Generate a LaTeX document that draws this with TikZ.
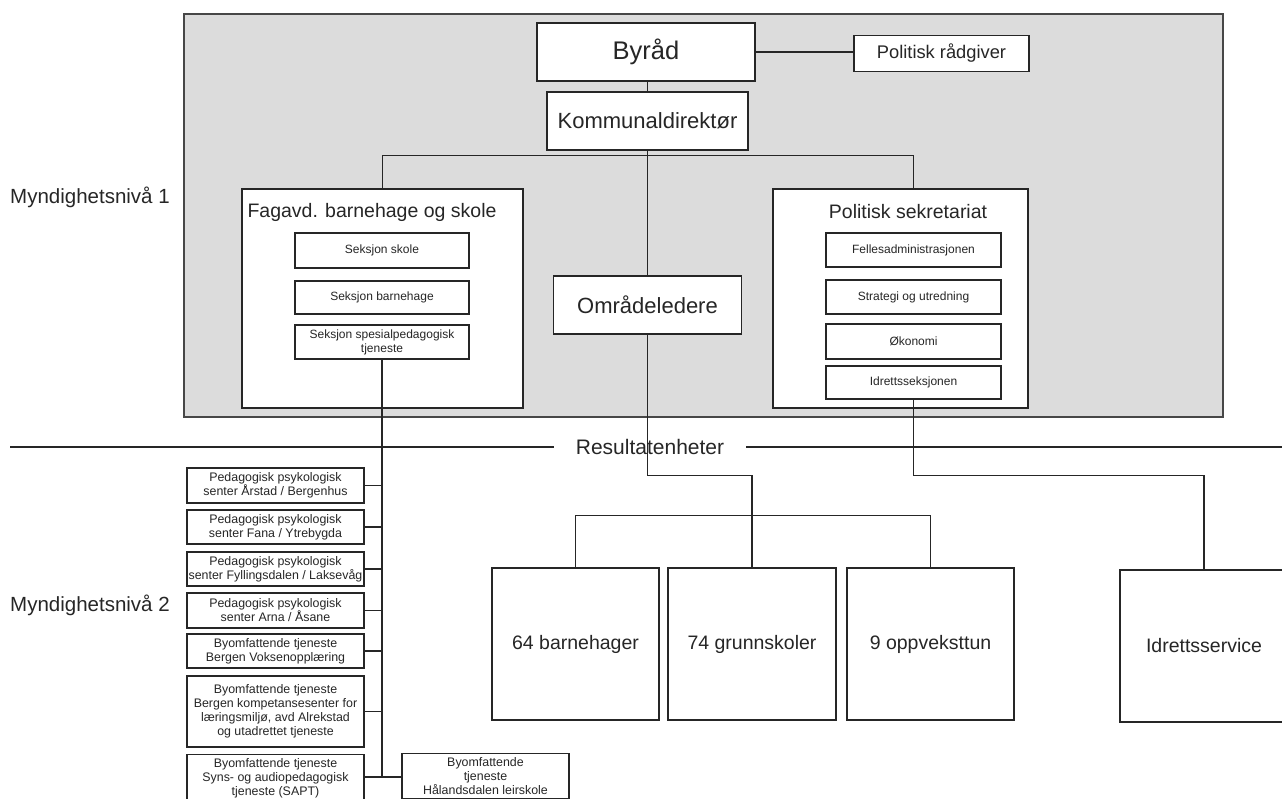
\documentclass[tikz,border=0pt]{standalone}
\usepackage{fontspec}
\setmainfont{Liberation Sans}
\definecolor{ink}{HTML}{262626}
\definecolor{panelgray}{HTML}{DCDCDC}
\newcommand\fsz[2]{\fontsize{#1}{#2}\selectfont}
\begin{document}
\begin{tikzpicture}[x=1pt,y=-1pt,
  unit/.style={draw=ink, fill=white, line width=1.3pt, inner sep=0pt, align=center, text=ink},
  sub/.style={unit, minimum width=174pt, font=\fsz{12}{14}},
  leftsub/.style={unit, minimum width=177pt, font=\fsz{12.4}{14}},
  big/.style={unit, minimum width=167pt, minimum height=152pt, font=\fsz{19.5}{22}},
  heading/.style={text=ink, inner sep=0pt, font=\fsz{19.5}{22}},
  level/.style={text=ink, inner sep=0pt, anchor=west, font=\fsz{20.5}{24}},
  wire/.style={draw=ink, line width=1.4pt},
  rule/.style={draw=ink, line width=2.6pt}]
\useasboundingbox (0,0) rectangle (1282,798);
\clip (0,0) rectangle (1282,798);

% shaded area of the first authority level
\draw[draw=ink!85, fill=panelgray, line width=1.5pt] (184,14) rectangle (1223,417);

% top management
\node[unit, minimum width=218pt, minimum height=58pt, font=\fsz{25.5}{30}] (byrad) at (646,52) {Byråd};
\node[unit, minimum width=175pt, minimum height=36pt, font=\fsz{18.3}{21}] (radgiver) at (941.5,53.5) {Politisk rådgiver};
\node[unit, minimum width=201pt, minimum height=58pt, font=\fsz{22}{26}] (kdir) at (647.5,121) {Kommunaldirektør};

% department for kindergarten and school
\node[unit, minimum width=281pt, minimum height=219pt] (fagavd) at (382.5,298.5) {};
\node[heading] (fagtitle) at (372,212) {Fagavd. barnehage og skole};
\node[sub, minimum height=35pt] (skole) at (382,250.5) {Seksjon skole};
\node[sub, minimum height=33pt] (barnehage) at (382,297.5) {Seksjon barnehage};
\node[sub, minimum height=34pt] (spes) at (382,342) {Seksjon spesialpedagogisk\\tjeneste};

% political secretariat
\node[unit, minimum width=255pt, minimum height=219pt] (polsek) at (900.5,298.5) {};
\node[heading] (poltitle) at (908,212) {Politisk sekretariat};
\node[sub, minimum width=175pt, minimum height=34pt] (felles) at (913.5,250) {Fellesadministrasjonen};
\node[sub, minimum width=175pt, minimum height=34pt] (strategi) at (913.5,297) {Strategi og utredning};
\node[sub, minimum width=175pt, minimum height=35pt] (okonomi) at (913.5,341.5) {Økonomi};
\node[sub, minimum width=175pt, minimum height=33pt] (idrsek) at (913.5,382.5) {Idrettsseksjonen};

% area managers
\node[unit, minimum width=188pt, minimum height=58pt, font=\fsz{22}{26}] (omr) at (647.5,305) {Områdeledere};

% authority level labels
\node[level] (lvl1) at (10,197) {Myndighetsnivå 1};
\node[level] (lvl2) at (10,605) {Myndighetsnivå 2};

% result units divider
\node[text=ink, inner xsep=22pt, inner ysep=0pt, font=\fsz{21}{24}] (res) at (650,447) {Resultatenheter};
\coordinate (ruleL) at (10,447);
\coordinate (ruleR) at (1282,447);

% result units
\node[big] (barn) at (575.5,644) {64 barnehager};
\node[big, minimum width=168pt] (grunn) at (752,644) {74 grunnskoler};
\node[big] (oppv) at (930.5,644) {9 oppveksttun};
\node[big, minimum width=168pt] (idrserv) at (1204,646) {Idrettsservice};

% pedagogical-psychological services and city-wide services
\node[leftsub, minimum height=35pt] (p1) at (275.5,485.5) {Pedagogisk psykologisk\\senter Årstad / Bergenhus};
\node[leftsub, minimum height=34pt] (p2) at (275.5,527) {Pedagogisk psykologisk\\senter Fana / Ytrebygda};
\node[leftsub, minimum height=34pt] (p3) at (275.5,569) {Pedagogisk psykologisk\\senter Fyllingsdalen / Laksevåg};
\node[leftsub, minimum height=35pt] (p4) at (275.5,610.5) {Pedagogisk psykologisk\\senter Arna / Åsane};
\node[leftsub, minimum height=34pt] (p5) at (275.5,651) {Byomfattende tjeneste\\Bergen Voksenopplæring};
\node[leftsub, minimum height=71pt] (p6) at (275.5,711.5) {Byomfattende tjeneste\\Bergen kompetansesenter for\\læringsmiljø, avd Alrekstad\\og utadrettet tjeneste};
\node[leftsub, anchor=north, inner ysep=4pt] (p7) at (275.5,754) {Byomfattende tjeneste\\Syns- og audiopedagogisk\\tjeneste (SAPT)};
\node[leftsub, minimum width=167pt, anchor=north, inner ysep=4pt] (hal) at (485.5,753) {Byomfattende\\tjeneste\\Hålandsdalen leirskole};
\coordinate (trunkend) at (382,777);

% connectors, top part
\draw[wire] (byrad.east) -- (radgiver.west |- byrad.east);
\draw[wire] (kdir.north) -- (kdir.north |- byrad.south);
\draw[wire] (kdir.south) -- (omr.north);
\draw[wire] (fagavd.north) -- ++(0,-33) -| (felles.north |- polsek.north);

% connectors to result units
\draw[wire] (omr.south) -- ++(0,141) -| (grunn.north);
\draw[wire] (barn.north) -- ++(0,-52) -| (oppv.north);
\draw[wire] (idrsek.south) -- ++(0,76) -| (idrserv.north);

% left trunk
\draw[wire] (spes.south) -- (spes.south |- trunkend);
\foreach \n in {p1,p2,p3,p4,p5,p6}
  \draw[wire] (\n.east) -- (\n.east -| trunkend);
\draw[wire] (p7.east |- trunkend) -- (hal.west |- trunkend);

% divider line
\draw[rule] (ruleL) -- (res.west);
\draw[rule] (res.east) -- (ruleR);
\end{tikzpicture}
\end{document}
